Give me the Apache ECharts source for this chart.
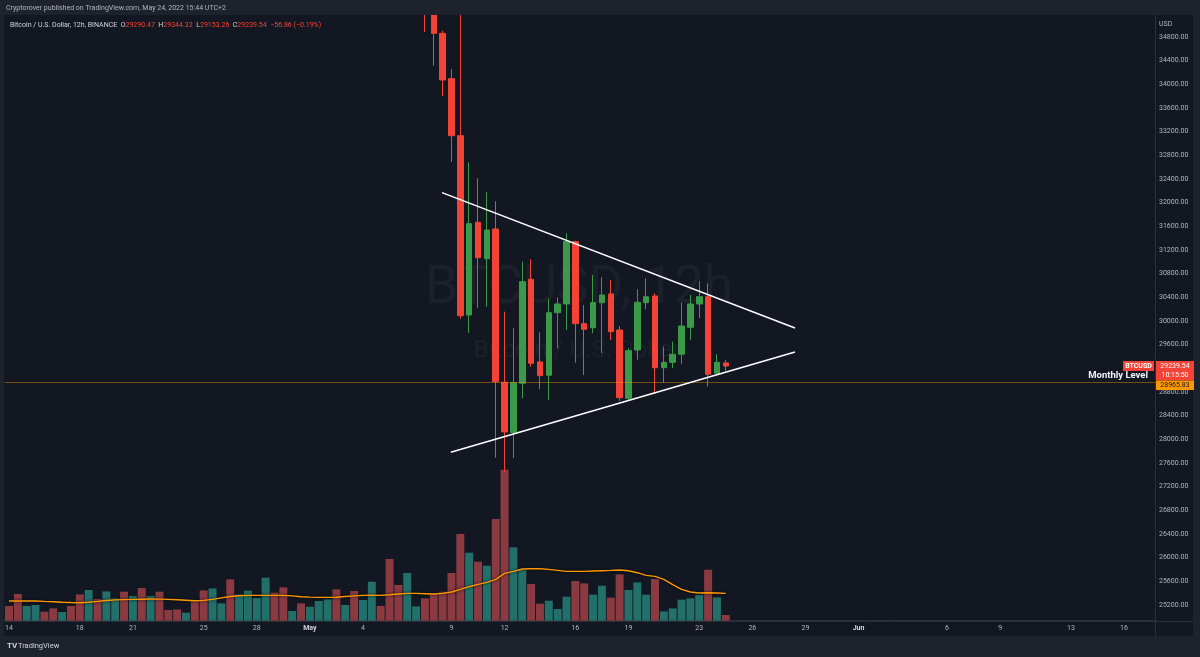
<!DOCTYPE html>
<html><head><meta charset="utf-8">
<script src="https://cdn.jsdelivr.net/npm/echarts@6/dist/echarts.min.js"></script>
<style>html,body{margin:0;padding:0;background:#1e222d;}#c{width:1200px;height:657px;}</style>
</head><body><div id="c"></div>
<script>
// ---------- DATA ----------
const slotStart = '2022-04-14T00:00:00Z';
const slotCount = 130;           // 12h slots on the time axis
const tickDates  = ['2022-04-14','2022-04-18','2022-04-21','2022-04-25','2022-04-28','2022-05-01','2022-05-04','2022-05-09','2022-05-12','2022-05-16','2022-05-19','2022-05-23','2022-05-26','2022-05-29','2022-06-01','2022-06-06','2022-06-09','2022-06-13','2022-06-16'];
const tickLabels = ['14','18','21','25','28','May','4','9','12','16','19','23','26','29','Jun','6','9','13','16'];
const monthLabels = ['May','Jun'];

const opens = [41150,40400,39950,40300,40550,40350,40000,40400,39700,39250,
 40800,40650,41500,41700,41350,42100,40500,40700,39700,39500,
 39450,39750,39500,38900,40400,40450,38100,38700,39200,39600,
 39750,39300,38600,38700,37650,38300,38450,38500,37700,38000,
 37700,38200,39700,39400,36550,36400,36000,35900,35450,34862,
 34095,33132,30102,31668,31053,31555,28964,28114,28948,30706,
 29308,29083,30141,30288,31341,29955,29887,30310,30457,29848,
 28694,29511,30310,30423,29211,29302,29438,29894,30288,30411,
 29117,29290.47];
const closes = [40400,39950,40300,40550,40350,40000,40400,39700,39250,40800,
 40650,41500,41700,41350,42100,40500,40700,39700,39500,39450,
 39750,39500,38900,40400,40450,38100,38700,39200,39600,39750,
 39300,38600,38700,37650,38300,38450,38500,37700,38000,37700,
 38200,39700,39400,36550,36400,36600,36200,35450,34862,34073,
 33132,30090,31645,31070,31538,28975,28125,28957,30665,29286,
 29076,30141,30288,31348,29955,29860,30310,30440,29820,28704,
 29499,30317,30411,29211,29302,29438,29916,30288,30411,29100,
 29302,29239.54];
const lows = [40300,39550,39800,40100,40200,39900,39950,39550,38550,39150,
 40400,40550,41100,40800,41200,39800,39900,39200,39300,39200,
 39300,39300,38200,38800,40000,37700,37900,38500,38900,38950,
 38800,38200,38300,37500,37400,38000,38100,37400,37500,37400,
 37600,38100,39000,35800,35900,35550,35700,34884,34315,33803,
 32687,30040,29798,30220,30242,27690,27450,27680,28694,29228,
 28847,28665,29536,29848,29296,29088,29793,29455,29679,28648,
 28665,29342,30198,28767,28957,29201,29274,29679,30046,28891,
 29100,29153.26];
const highs = [41500,40700,40550,40700,40700,40500,40500,40450,39800,41100,
 41000,41750,42200,42000,42950,42300,40900,40750,39900,39700,
 40000,39900,39650,40600,40800,40750,39000,39450,39900,40350,
 39900,39400,39000,38800,38500,38700,38700,38600,38400,38100,
 38500,40000,39800,39500,36800,36900,36500,36100,35600,34906,
 34259,35300,32682,32412,32175,32023,30158,29877,31003,31043,
 29810,30377,30400,31483,31358,30271,30778,30739,30693,29916,
 29540,30536,30722,30468,29566,29651,30310,30440,30676,30636,
 29438,29344.32];
// volume (K BTC, relative)
const volumes = [14.7,26.7,14.7,15.7,9,12.3,8.7,14.7,26.3,30.7,
 21.7,29.3,22.3,29,24.7,32.7,24.7,29,10.7,11.3,
 8,19.3,30.3,32.3,17.3,41.3,26.3,30,22.7,43,
 28,33.3,9.7,17.3,14,19.7,21.3,31.3,15.7,29.7,
 20.7,39,14.7,61.7,35.7,47.7,14.3,22.3,26.7,29,
 47.7,86.7,68,59,55,101.7,151,73.3,51,36.7,
 17,20,11.7,24,39.7,37.3,26,35,23,46.3,
 30.7,38.3,26,41.7,9.3,12.3,21,22.3,25.7,51,
 23.3,5.7];
const volumeMA = [19.7,19.7,19.7,19.7,19.3,19.0,18.5,18.2,18.0,18.5,
 19.3,20.2,20.8,21.1,21.3,21.5,21.7,21.6,21.3,21.0,
 20.5,20.0,20.3,21.3,22.8,24.2,25.0,25.3,25.3,25.3,
 25.3,25.3,24.8,24.0,23.6,23.3,23.3,23.5,24.2,24.8,
 25.3,25.5,25.3,25.9,26.7,27.3,27.3,27.0,26.7,27.3,
 28.7,31.3,34,36.3,38.3,41.3,47.3,49.3,51.7,52,
 52,51.3,50.3,49.3,49.3,49.3,49.7,50,50.3,50.7,
 50,48,45.3,44.3,41.3,36,31.3,28.7,27.7,28,
 27.7,27.3];
// trend lines drawn by the author: [slot index, price]
const upperTrend = [[48.93,32169],[88.82,29882]];
const lowerTrend = [[49.92,27781],[88.82,29476]];
const monthlyLevel = 28965.83;
const lastChange = '−56.86 (−0.19%)';
const countdown = '10:15:50';
const symbolName = 'BTCUSD';
const headerText = 'Cryptorover published on TradingView.com, May 24, 2022 15:44 UTC+2';
const legendTitle = 'Bitcoin / U.S. Dollar, 12h, BINANCE';

// ---------- CATEGORIES ----------
const categories = [];
const t0 = Date.parse(slotStart);
for (let i = 0; i < slotCount; i++) {
  const d = new Date(t0 + i * 12 * 3600 * 1000);
  const p = n => String(n).padStart(2,'0');
  categories.push(d.getUTCFullYear()+'-'+p(d.getUTCMonth()+1)+'-'+p(d.getUTCDate())+' '+p(d.getUTCHours())+':00');
}
const tickMap = {};
tickDates.forEach((d,i)=>{ tickMap[d+' 00:00'] = tickLabels[i]; });

const UP = '#3a9a47', DOWN = '#f44336';
const VUP = '#236f6a', VDOWN = '#8a3a40';
const FONT = 'Roboto, "Liberation Sans", sans-serif';

const candleData = opens.map((o,i)=>[o, closes[i], lows[i], highs[i]]);
const volData = volumes.map((v,i)=>({value:v, itemStyle:{color: closes[i] >= opens[i] ? VUP : VDOWN}}));

// layout
const GL = 4.575, GR = 45.0;
const chart = echarts.init(document.getElementById('c'), null, {renderer:'canvas'});
const option = {
  animation:false,
  backgroundColor:'transparent',
  textStyle:{fontFamily:FONT},
  grid:[
    {left:GL, right:GR, top:13.33, bottom:28.33},
    {left:GL, right:GR, top:460.7, bottom:36.3}
  ],
  xAxis:[
    {type:'category', gridIndex:0, data:categories, boundaryGap:true, show:false},
    {type:'category', gridIndex:1, data:categories, boundaryGap:true,
     axisLine:{show:true, lineStyle:{color:'#2a2e39'}}, axisTick:{show:false},
     axisLabel:{color:'#b2b5be', fontSize:7, margin:4, fontFamily:FONT,
       interval:(idx,val)=> tickMap[val] !== undefined,
       formatter:(val)=>{ const t = tickMap[val]; if (t===undefined) return ''; return monthLabels.includes(t) ? '{m|'+t+'}' : t; },
       rich:{m:{color:'#d1d4dc', fontWeight:'bold', fontSize:7}}},
     splitLine:{show:false}},
    {type:'value', gridIndex:0, min:-0.5, max:slotCount-0.5, show:false}
  ],
  yAxis:[
    {type:'value', gridIndex:0, position:'right', min:24800, max:35200, interval:400, scale:true,
     axisLine:{show:false}, axisTick:{show:false}, splitLine:{show:false},
     axisLabel:{color:'#b2b5be', fontSize:7, margin:4, fontFamily:FONT, showMinLabel:false, showMaxLabel:false,
       formatter:v=>v.toFixed(2)}},
    {type:'value', gridIndex:1, min:0, max:160, show:false}
  ],
  series:[
    {type:'bar', name:'Volume', xAxisIndex:1, yAxisIndex:1, data:volData, barCategoryGap:'10%', z:2},
    {type:'line', name:'Volume MA', xAxisIndex:1, yAxisIndex:1, data:volumeMA, showSymbol:false, smooth:false,
     lineStyle:{color:'#ff9800', width:1.4, shadowColor:'rgba(0,0,0,0.9)', shadowBlur:3}, z:3},
    {type:'candlestick', name:'BTCUSD', xAxisIndex:0, yAxisIndex:0, data:candleData, barWidth:6, clip:true,
     itemStyle:{color:UP, color0:DOWN, borderColor:UP, borderColor0:DOWN, borderWidth:1}, z:4,
     markLine:{silent:true, symbol:['none','none'], animation:false,
       lineStyle:{color:'rgba(255,152,0,0.42)', width:1, type:'solid'}, label:{show:false},
       data:[{yAxis:monthlyLevel}]}},
    {type:'line', name:'upper', xAxisIndex:2, yAxisIndex:0, data:upperTrend, showSymbol:false,
     lineStyle:{color:'#ffffff', width:1.5}, z:5},
    {type:'line', name:'lower', xAxisIndex:2, yAxisIndex:0, data:lowerTrend, showSymbol:false,
     lineStyle:{color:'#ffffff', width:1.5}, z:5}
  ]
};
chart.setOption(option);

// ---------- annotations (positioned through the axes) ----------
const last = opens.length - 1;
const yP = chart.convertToPixel({yAxisIndex:0}, closes[last]);
const yM = chart.convertToPixel({yAxisIndex:0}, monthlyLevel);
const axX = 1200 - GR;
const fmt2 = v => v.toFixed(2);
const txt = (x,y,text,style,z) => ({type:'text', x, y, z: z===undefined?100:z, style:Object.assign({text, fontFamily:FONT}, style)});
const graphics = [
  {type:'rect', shape:{x:4,y:15,width:1189,height:621}, style:{fill:'#131722'}, z:-10},
  txt(579, 290, 'BTCUSD, 12h', {fill:'rgba(255,255,255,0.04)', fontSize:53, align:'center', verticalAlign:'middle'}, -5),
  txt(577, 351, 'Bitcoin / U.S. Dollar', {fill:'rgba(255,255,255,0.04)', fontSize:24, align:'center', verticalAlign:'middle'}, -5),
  {type:'rect', shape:{x:0,y:0,width:1200,height:15}, style:{fill:'#1e222d'}, z:100},
  {type:'rect', shape:{x:0,y:0,width:4,height:657}, style:{fill:'#1e222d'}, z:100},
  {type:'rect', shape:{x:1193,y:0,width:7,height:657}, style:{fill:'#1e222d'}, z:100},
  {type:'rect', shape:{x:0,y:636,width:1200,height:21}, style:{fill:'#1e222d'}, z:100},
  {type:'line', shape:{x1:axX+0.5,y1:15,x2:axX+0.5,y2:636}, style:{stroke:'#2a2e39', lineWidth:1}, z:100},
  {type:'line', shape:{x1:4,y1:621.5,x2:1193,y2:621.5}, style:{stroke:'#2a2e39', lineWidth:1}, z:99},
  txt(6, 8, headerText, {fill:'#b2b5be', fontSize:7, verticalAlign:'middle'}),
  txt(10, 25, '{t|'+legendTitle+'}  {l|O}{v|'+fmt2(opens[last])+'}  {l|H}{v|'+fmt2(highs[last])+'}  {l|L}{v|'+fmt2(lows[last])+'}  {l|C}{v|'+fmt2(closes[last])+'}  {v|'+lastChange+'}',
      {fill:'#d1d4dc', fontSize:7, verticalAlign:'middle',
       rich:{t:{fill:'#d1d4dc', fontSize:7, fontFamily:FONT}, l:{fill:'#d1d4dc', fontSize:7, fontFamily:FONT}, v:{fill:'#f44336', fontSize:7, fontFamily:FONT}}}),
  txt(axX+4, 24, 'USD', {fill:'#b2b5be', fontSize:7, verticalAlign:'middle'}),
  // Monthly level label
  txt(axX-7, yM-7, 'Monthly Level', {fill:'#f0f3fa', fontSize:9.5, fontWeight:'bold', align:'right', verticalAlign:'middle'}),
  // last price boxes
  {type:'rect', shape:{x:axX-32, y:yP-5, width:31, height:10}, style:{fill:'#f44336'}, z:101},
  txt(axX-16.5, yP, symbolName, {fill:'#ffffff', fontSize:7, fontWeight:'bold', align:'center', verticalAlign:'middle'}, 102),
  {type:'rect', shape:{x:axX+1, y:yP-5, width:38, height:19.5}, style:{fill:'#f44336'}, z:101},
  txt(axX+20, yP, fmt2(closes[last]), {fill:'#ffffff', fontSize:7, align:'center', verticalAlign:'middle'}, 102),
  txt(axX+20, yP+9.5, countdown, {fill:'#ffffff', fontSize:7, align:'center', verticalAlign:'middle'}, 102),
  {type:'rect', shape:{x:axX+1, y:yP+14.5, width:38, height:9.5}, style:{fill:'#ff9800'}, z:101},
  txt(axX+20, yP+19.25, fmt2(monthlyLevel), {fill:'#131722', fontSize:7, align:'center', verticalAlign:'middle'}, 102),
  // footer
  txt(7, 646, 'TV', {fill:'#d1d4dc', fontSize:8, fontWeight:'bold', verticalAlign:'middle'}),
  txt(18, 646, 'TradingView', {fill:'#d1d4dc', fontSize:7.5, verticalAlign:'middle'})
];
chart.setOption({graphic: graphics});
</script>
</body></html>
